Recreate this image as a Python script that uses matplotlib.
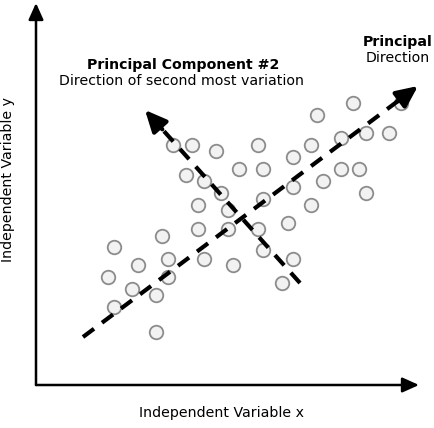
import matplotlib
matplotlib.use("Agg")
import matplotlib.pyplot as plt
import numpy as np

# sample points (x, y) measured from the axis origin
point_x = [281, 317, 365, 305, 330, 353, 275, 222, 156, 137, 180, 257, 203, 227, 305,
           323, 150, 168, 287, 257, 185, 330, 227, 162, 275, 192, 252, 162, 192, 222,
           126, 78, 227, 168, 132, 257, 102, 197, 72, 132, 246, 96, 120, 78, 120]
point_y = [270, 282, 282, 247, 252, 252, 240, 240, 240, 240, 234, 228, 216, 216, 216,
           216, 210, 204, 204, 198, 192, 192, 186, 180, 180, 175, 162, 156, 156, 156,
           149, 138, 135, 126, 126, 126, 120, 120, 108, 108, 102, 96, 90, 78, 53]

# principal directions: start, arrow tip
pc1_start, pc1_tip = (47, 48), (382, 299)
pc2_start, pc2_tip = (264, 102), (109, 275)

x_label = "Independent Variable x"
y_label = "Independent Variable y"

W, H = 435, 428
ORIGIN = (36, 385)

fig = plt.figure(figsize=(W / 100, H / 100), dpi=100)
ax = fig.add_axes([0, 0, 1, 1])
ax.set_xlim(-ORIGIN[0], W - ORIGIN[0])
ax.set_ylim(-(H - ORIGIN[1]), ORIGIN[1])
ax.axis("off")

# axes with arrow heads
axis_arrow = dict(arrowstyle="-|>,head_length=1.0,head_width=0.45", color="black", lw=1.8,
                  shrinkA=0, shrinkB=0)
ax.annotate("", xy=(383, 0), xytext=(0, 0), arrowprops=axis_arrow)
ax.annotate("", xy=(0, 382), xytext=(0, 0), arrowprops=axis_arrow)

ax.scatter(point_x, point_y, s=95, facecolor="#f2f2f2", edgecolor="#8c8c8c", lw=1.3, zorder=2)


def dashed_arrow(start, tip, head=22):
    start, tip = np.array(start, float), np.array(tip, float)
    d = tip - start
    u = d / np.hypot(*d)
    base = tip - u * head
    ax.plot([start[0], base[0]], [start[1], base[1]], color="black", lw=3,
            linestyle=(0, (3.3, 2.4)), solid_capstyle="butt", dash_capstyle="butt", zorder=3)
    ax.annotate("", xy=tip, xytext=base - u * 4,
                arrowprops=dict(arrowstyle="-|>,head_length=1.3,head_width=0.6", color="black",
                                lw=3, shrinkA=0, shrinkB=0), zorder=4)


dashed_arrow(pc1_start, pc1_tip)
dashed_arrow(pc2_start, pc2_tip)

font = "DejaVu Sans"
fs = 10.2
ax.text(147, 320, "Principal Component #2", ha="center", va="center", fontsize=fs,
        fontweight="bold", family=font)
ax.text(146, 304, "Direction of second most variation", ha="center", va="center",
        fontsize=fs, family=font)
ax.text(362, 343, "Principal", ha="center", va="center", fontsize=fs, fontweight="bold", family=font)
ax.text(362, 327, "Direction", ha="center", va="center", fontsize=fs, family=font)
ax.text(186, -28, x_label, ha="center", va="center", fontsize=fs, family=font)
ax.text(-28, 205, y_label, ha="center", va="center", rotation=90, fontsize=fs, family=font)

fig.savefig("out.png", dpi=100)
